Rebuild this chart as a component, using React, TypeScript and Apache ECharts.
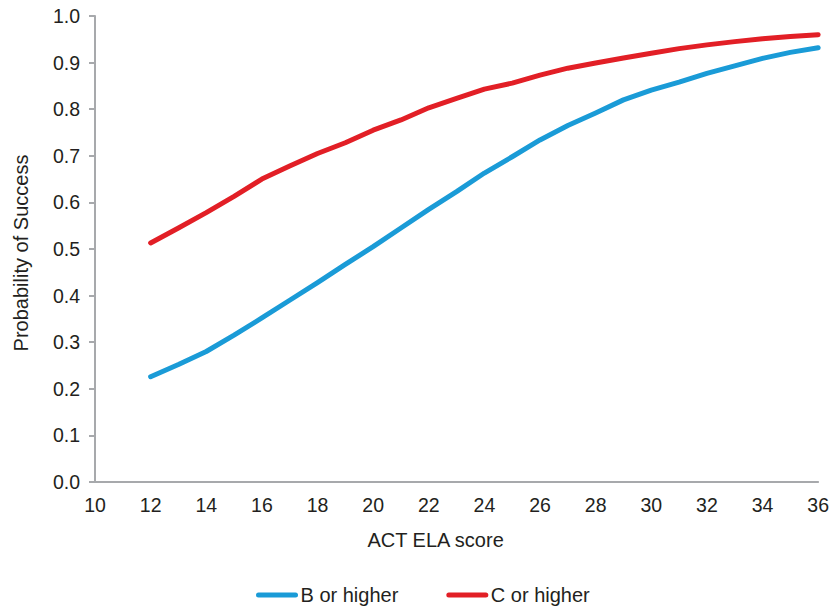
import React, { useEffect, useRef } from "react";
import * as echarts from "echarts";

const scores = [12, 13, 14, 15, 16, 17, 18, 19, 20, 21, 22, 23, 24, 25, 26, 27, 28, 29, 30, 31, 32, 33, 34, 35, 36];
const bOrHigher = [0.226, 0.252, 0.28, 0.315, 0.352, 0.39, 0.428, 0.467, 0.505, 0.545, 0.585, 0.623, 0.663, 0.698, 0.734, 0.765, 0.792, 0.82, 0.841, 0.858, 0.877, 0.893, 0.909, 0.922, 0.932];
const cOrHigher = [0.513, 0.545, 0.578, 0.613, 0.65, 0.678, 0.705, 0.728, 0.755, 0.777, 0.803, 0.823, 0.843, 0.856, 0.873, 0.888, 0.899, 0.91, 0.92, 0.93, 0.938, 0.945, 0.951, 0.956, 0.96];
const seriesNames = ["B or higher", "C or higher"];
const seriesColors = ["#1A9BD7", "#E21F26"];

const textColor = "#231F20";
const axisColor = "#A7A9AC";
const font = "'Liberation Sans', Arial, sans-serif";

export default function App() {
  const ref = useRef<HTMLDivElement>(null);
  useEffect(() => {
    if (!ref.current) return;
    const chart = echarts.init(ref.current, null, { renderer: "svg" });
    const icon = "path://M2.5,0 H39.5 A2.5,2.5 0 0 1 39.5,5 H2.5 A2.5,2.5 0 0 1 2.5,0 Z";
    chart.setOption({
      animation: false,
      textStyle: { fontFamily: font },
      grid: { left: 95, right: 13, top: 16, bottom: 125, containLabel: false },
      legend: {
        data: seriesNames.map((n) => ({ name: n, icon })),
        top: 580,
        left: 251,
        itemWidth: 43,
        itemHeight: 5,
        itemGap: 48,
        textStyle: { fontSize: 20, color: textColor, fontFamily: font, padding: [0, 0, 0, -3] },
      },
      xAxis: {
        type: "value",
        min: 10,
        max: 36,
        interval: 2,
        name: "ACT ELA score",
        nameLocation: "middle",
        nameGap: 48,
        nameTextStyle: { fontSize: 20, color: textColor, fontFamily: font, padding: [0, 42, 0, 0] },
        axisLine: { show: true, lineStyle: { color: axisColor, width: 2 } },
        axisTick: { show: false },
        axisLabel: { fontSize: 19.5, color: textColor, margin: 13, fontFamily: font },
        splitLine: { show: false },
      },
      yAxis: {
        type: "value",
        min: 0,
        max: 1,
        interval: 0.1,
        name: "Probability of Success",
        nameLocation: "middle",
        nameGap: 64,
        nameTextStyle: { fontSize: 20, color: textColor, fontFamily: font, padding: [0, 8, 0, 0] },
        axisLine: { show: true, lineStyle: { color: axisColor, width: 2 } },
        axisTick: { show: true, length: 6, lineStyle: { color: axisColor, width: 2 } },
        axisLabel: {
          fontSize: 19.5,
          color: textColor,
          margin: 15,
          fontFamily: font,
          formatter: (v: number) => v.toFixed(1),
        },
        splitLine: { show: false },
      },
      series: [
        {
          name: seriesNames[0],
          type: "line",
          data: scores.map((s, i) => [s, bOrHigher[i]]),
          symbol: "none",
          lineStyle: { color: seriesColors[0], width: 5, cap: "round", join: "round" },
          itemStyle: { color: seriesColors[0] },
        },
        {
          name: seriesNames[1],
          type: "line",
          data: scores.map((s, i) => [s, cOrHigher[i]]),
          symbol: "none",
          lineStyle: { color: seriesColors[1], width: 5, cap: "round", join: "round" },
          itemStyle: { color: seriesColors[1] },
        },
      ],
    });
    return () => chart.dispose();
  }, []);
  return (
    <div
      ref={ref}
      style={{ position: "absolute", left: 0, top: 0, width: 832, height: 607 }}
    />
  );
}
